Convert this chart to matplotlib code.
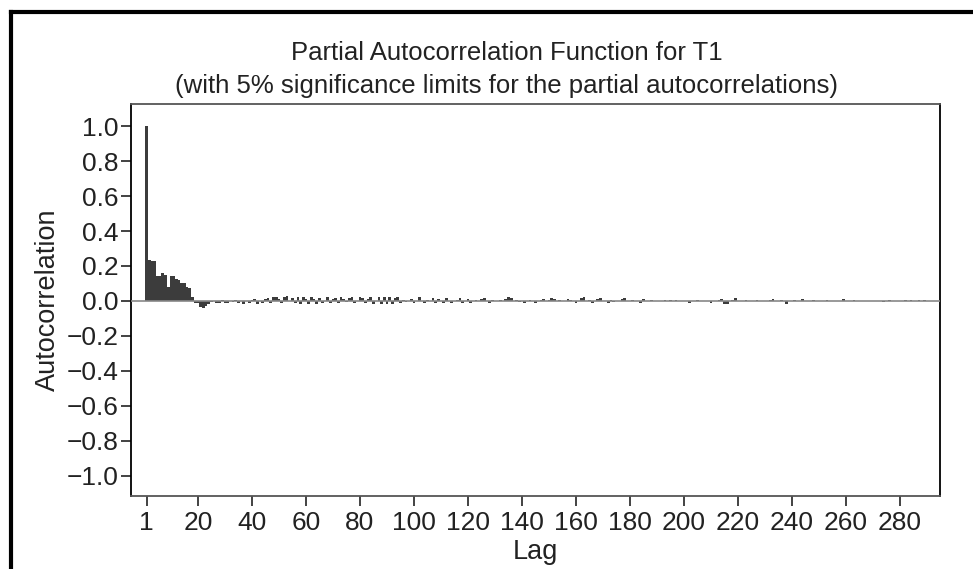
"""Partial autocorrelation bar chart for T1."""

import numpy as np
import matplotlib
matplotlib.use("Agg")
from matplotlib import pyplot as plt
from matplotlib.lines import Line2D

plt.rcParams['font.family'] = ['Liberation Sans', 'DejaVu Sans']

# partial autocorrelations, lags 1..290
pacf = [
    1.0, 0.235, 0.23, 0.23, 0.145, 0.14, 0.16, 0.15, 0.08, 0.14,
    0.14, 0.125, 0.12, 0.105, 0.10, 0.078, 0.075, 0.02, -0.01, -0.01,
    -0.035, -0.04, -0.03, -0.02, -0.005, 0.0, -0.01, -0.01, 0.005, -0.01,
    -0.012, 0.0, -0.005, 0.005, -0.01, 0.0, -0.015, 0.0, -0.01, 0.005,
    0.01, -0.015, 0.0, -0.01, 0.01, 0.015, -0.01, 0.02, 0.02, 0.01,
    -0.01, 0.025, 0.03, 0.0, 0.015, -0.01, 0.02, -0.015, 0.025, 0.01,
    -0.02, 0.02, 0.01, -0.015, 0.015, -0.01, 0.0, 0.02, -0.01, 0.01,
    0.015, -0.01, 0.02, 0.01, -0.005, 0.015, 0.02, -0.01, 0.0, 0.02,
    0.015, -0.01, 0.01, 0.02, -0.015, 0.0, 0.02, -0.02, 0.025, -0.02,
    0.02, -0.015, 0.015, 0.025, -0.01, 0.005, -0.005, 0.0, 0.01, -0.01,
    0.0, 0.02, 0.0, -0.01, 0.005, 0.0, 0.015, -0.01, 0.01, 0.0,
    -0.01, 0.015, 0.0, -0.01, 0.0, 0.005, 0.015, -0.01, 0.0, 0.01,
    -0.01, 0.0, 0.005, 0.0, 0.01, 0.015, 0.0, -0.01, 0.005, 0.0,
    0.0, 0.005, 0.0, 0.01, 0.02, 0.015, 0.0, 0.005, -0.005, 0.0,
    -0.01, 0.0, 0.005, 0.0, -0.01, 0.0, 0.005, 0.01, 0.0, 0.005,
    0.015, 0.01, 0.0, 0.005, 0.0, 0.0, 0.01, 0.005, 0.0, -0.01,
    0.0, 0.015, 0.02, 0.0, 0.005, -0.01, 0.0, 0.01, 0.015, 0.0,
    0.0, -0.01, 0.005, -0.005, 0.0, 0.0, 0.01, 0.015, 0.0, 0.0,
    0.005, 0.0, 0.0, -0.012, 0.01, 0.0, 0.0, 0.005, 0.0, 0.0,
    0.0, 0.0, 0.005, 0.0, 0.003, 0.0, 0.003, 0.0, 0.0, 0.0,
    0.0, -0.01, 0.0, 0.0, 0.005, 0.0, 0.0, 0.0, 0.0, -0.01,
    0.0, 0.0, 0.005, 0.01, -0.02, -0.015, 0.0, 0.005, 0.015, 0.0,
    0.0, 0.0, 0.005, 0.0, 0.0, 0.0, 0.005, 0.0, 0.0, 0.0,
    0.0, 0.005, 0.012, 0.0, 0.0, 0.005, 0.0, -0.015, 0.0, 0.0,
    0.005, 0.0, 0.0, 0.012, 0.0, 0.0, 0.0, 0.005, 0.0, 0.0,
    0.0, 0.0, 0.005, 0.0, 0.0, 0.0, 0.0, 0.0, 0.01, 0.0,
    0.0, 0.0, 0.003, 0.0, 0.0, 0.0, 0.0, 0.0, 0.0, 0.0,
    0.0, 0.0, 0.0, -0.005, -0.003, 0.003, 0.0, 0.0, 0.0, 0.0,
    -0.003, 0.003, 0.0, 0.003, 0.0, -0.003, 0.003, 0.0, 0.003, 0.0,
]
lags = np.arange(1, len(pacf) + 1)

x_ticks = [1, 20, 40, 60, 80, 100, 120, 140, 160, 180, 200, 220, 240, 260, 280]
y_ticks = [-1.0, -0.8, -0.6, -0.4, -0.2, 0.0, 0.2, 0.4, 0.6, 0.8, 1.0]

fig = plt.figure(figsize=(9.73, 5.69), dpi=100)
ax = fig.add_axes([0.1346, 0.1283, 0.8315, 0.6889])

ax.bar(lags, pacf, width=1.0, color='#3c3c3c', linewidth=0)
ax.axhline(0, color='#888888', lw=1.2, zorder=3)

ax.set_xlim(-4.8, 294.8)
ax.set_ylim(-1.115, 1.126)
ax.set_xticks(x_ticks)
ax.set_yticks(y_ticks)
ax.set_yticklabels([f"{v:.1f}".replace('-', '\u2212') for v in y_ticks])
ax.tick_params(axis='both', labelsize=19, length=7, width=1.2,
               direction='out', colors='#222222', pad=2)
ax.tick_params(axis='x', pad=4)

for side in ['left', 'right']:
    ax.spines[side].set_color('black')
    ax.spines[side].set_linewidth(1.3)
for side in ['top', 'bottom']:
    ax.spines[side].set_color('#555555')
    ax.spines[side].set_linewidth(1.3)

ax.set_ylabel('Autocorrelation', fontsize=19.5, labelpad=4, color='#222222')
ax.set_xlabel('Lag', fontsize=19.5, labelpad=3, color='#222222')

fig.text(507 / 973, 1 - 53 / 569, 'Partial Autocorrelation Function for T1',
         ha='center', va='center', fontsize=18.5, color='#222222')
fig.text(507 / 973, 1 - 86 / 569,
         '(with 5% significance limits for the partial autocorrelations)',
         ha='center', va='center', fontsize=18.5, color='#222222')

# outer frame, only left and top edges are in view
fig.add_artist(Line2D([11 / 973, 11 / 973], [0, 1 - 11.5 / 569],
                      transform=fig.transFigure, color='black', lw=3))
fig.add_artist(Line2D([11 / 973, 1], [1 - 11.5 / 569, 1 - 11.5 / 569],
                      transform=fig.transFigure, color='black', lw=3))

plt.savefig('out.png', dpi=100)
